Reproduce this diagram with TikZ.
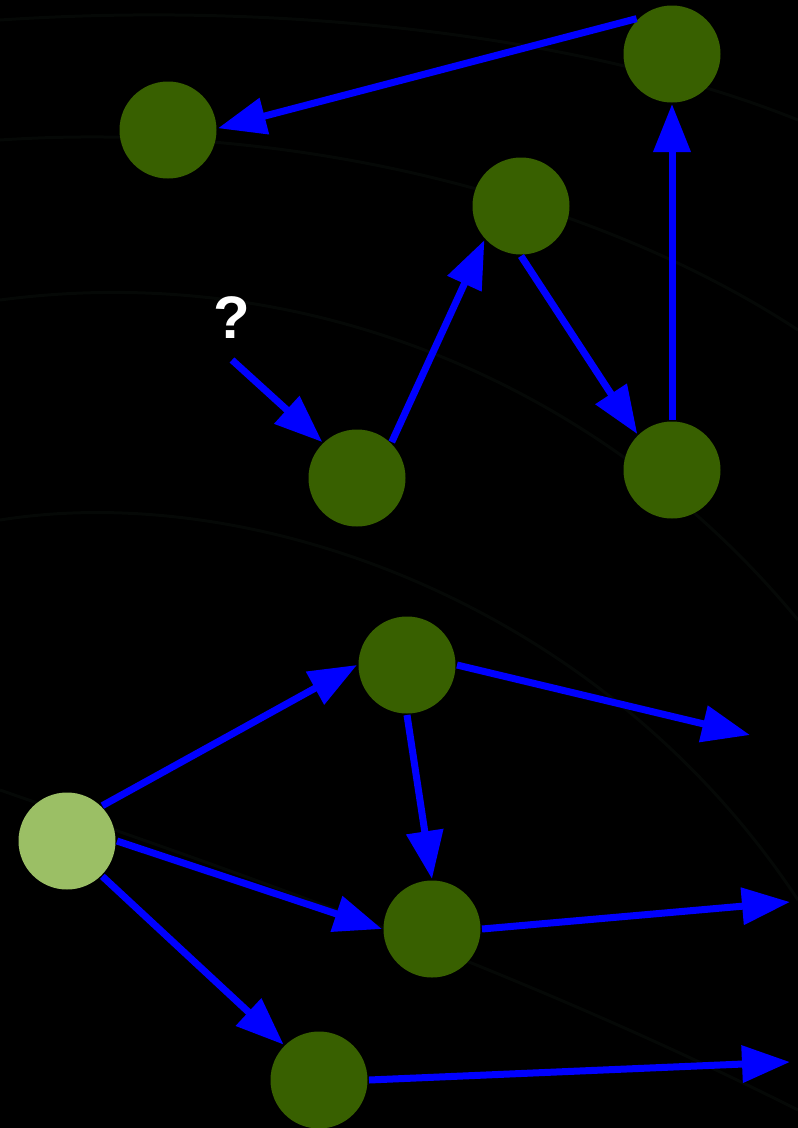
\documentclass[tikz,border=0pt]{standalone}
\usepackage{fontspec}
\setmainfont{Liberation Sans}
\usetikzlibrary{arrows.meta}
\definecolor{dgreen}{HTML}{386000}
\definecolor{lgreen}{HTML}{9BBF65}
\definecolor{bblue}{HTML}{0000FF}
\definecolor{streak}{HTML}{050806}
\tikzset{
  dot/.style={circle, fill=dgreen, minimum size=97pt, inner sep=0pt, outer sep=1.5pt},
  startdot/.style={dot, fill=lgreen},
  conn/.style={draw=bblue, line width=7pt, -{Triangle[length=48pt,width=36pt]}},
  qlabel/.style={text=white, font=\bfseries\fontsize{60}{60}\selectfont, inner sep=0pt}
}
\begin{document}
\begin{tikzpicture}[x=1pt,y=-1pt]
\fill[black] (0,0) rectangle (798,1128);
\useasboundingbox (0,0) rectangle (798,1128);
% faint background streaks
\begin{scope}[draw=streak, line width=3pt]
\draw (0,140) .. controls (300,120) and (600,200) .. (798,330);
\draw (0,300) .. controls (300,260) and (600,380) .. (798,620);
\draw (0,520) .. controls (250,480) and (600,600) .. (798,900);
\draw (0,790) .. controls (200,860) and (500,960) .. (798,1110);
\draw (0,20) .. controls (300,0) and (600,40) .. (798,120);
\end{scope}
% nodes
\node[dot] (A) at (168,130) {};
\node[dot] (B) at (672,54) {};
\node[dot] (C) at (521,206) {};
\node[dot] (D) at (357,478) {};
\node[dot] (E) at (672,470) {};
\node[dot] (F) at (407,665) {};
\node[startdot] (G) at (67,841) {};
\node[dot] (H) at (432,929) {};
\node[dot] (I) at (319,1080) {};
\node[qlabel] (Q) at (232,318) {?};
\coordinate (qs) at (232,360);
\coordinate (fo) at (750,735);
\coordinate (ho) at (790,902);
\coordinate (io) at (790,1062);
% connectors
\draw[conn] (B.135) -- (A.2);
\draw[conn] (E.90) -- (B.-90);
\draw[conn] (D.46) -- (C.223);
\draw[conn] (C.-90) -- (E.134);
\draw[conn] (qs) -- (D.134);
\draw[conn] (G.45) -- (F.180);
\draw[conn] (F.0) -- (fo);
\draw[conn] (F.-90) -- (H.90);
\draw[conn] (G.0) -- (H.180);
\draw[conn] (G.-45) -- (I.135);
\draw[conn] (H.0) -- (ho);
\draw[conn] (I.0) -- (io);
\end{tikzpicture}
\end{document}
